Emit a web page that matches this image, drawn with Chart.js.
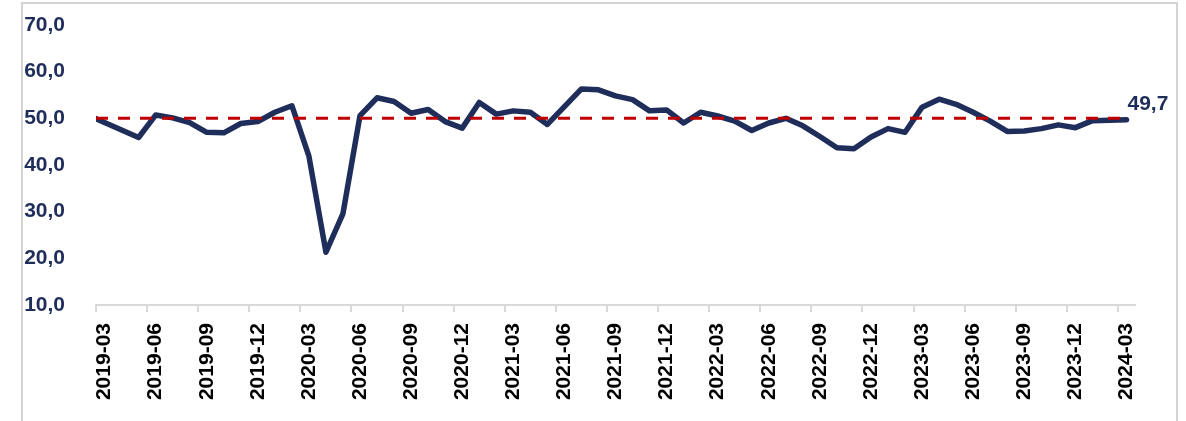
<!DOCTYPE html>
<html>
<head>
<meta charset="utf-8">
<script src="https://cdn.jsdelivr.net/npm/chart.js@4"></script>
<style>
    html, body { margin: 0; padding: 0; background: #fff; }
    #wrap { position: relative; width: 1186px; height: 421px; overflow: hidden; }
    #frame {
        position: absolute; left: 21px; top: 2px; width: 1157px; height: 500px;
        border: 2px solid #d3d3d3; box-sizing: border-box;
    }
    #chart-box { position: absolute; left: 0; top: 0; width: 1186px; height: 421px; }
</style>
</head>
<body>
<div id="wrap">
    <div id="frame"></div>
    <div id="chart-box"><canvas id="pmi-chart"></canvas></div>
</div>
<script>
// Months on the category axis (first one sits just left of the plot and is clipped)
const months = [
    '2019-02', '2019-03', '2019-04', '2019-05', '2019-06', '2019-07', '2019-08', '2019-09', '2019-10', '2019-11', '2019-12',
    '2020-01', '2020-02', '2020-03', '2020-04', '2020-05', '2020-06', '2020-07', '2020-08', '2020-09', '2020-10', '2020-11', '2020-12',
    '2021-01', '2021-02', '2021-03', '2021-04', '2021-05', '2021-06', '2021-07', '2021-08', '2021-09', '2021-10', '2021-11', '2021-12',
    '2022-01', '2022-02', '2022-03', '2022-04', '2022-05', '2022-06', '2022-07', '2022-08', '2022-09', '2022-10', '2022-11', '2022-12',
    '2023-01', '2023-02', '2023-03', '2023-04', '2023-05', '2023-06', '2023-07', '2023-08', '2023-09', '2023-10', '2023-11', '2023-12',
    '2024-01', '2024-02', '2024-03',
];

// Index values
const indexValues = [
    50.7, 49.1, 47.5, 45.9, 50.7, 50.1, 49.1, 47.0, 46.9, 48.9, 49.3,
    51.3, 52.7, 41.9, 21.3, 29.6, 50.6, 54.4, 53.6, 51.1, 51.9, 49.3, 47.9,
    53.4, 50.9, 51.6, 51.3, 48.7, 52.5, 56.3, 56.1, 54.8, 54.0, 51.6, 51.8,
    49.0, 51.3, 50.5, 49.4, 47.4, 49.0, 50.0, 48.4, 46.1, 43.7, 43.5, 46.0,
    47.8, 47.0, 52.4, 54.1, 53.0, 51.3, 49.4, 47.2, 47.3, 47.8, 48.6, 48.0,
    49.5, 49.6, 49.7,
];

const firstShownMonth = '2019-03';
const thresholdLevel = 50;
const yTicks = { min: 10, max: 70, step: 10 };

const NAVY = '#1f2d5a';
const RED = '#c00000';
const AXIS_GREY = '#d9d9d9';
const FONT = '"Liberation Sans", Arial, sans-serif';

const fmtComma = v => v.toFixed(1).replace('.', ',');

// dashed 50 line, drawn over the series
const thresholdLine = {
    id: 'thresholdLine',
    afterDatasetsDraw(chart) {
        const { ctx, chartArea, scales } = chart;
        const y = scales.y.getPixelForValue(thresholdLevel);
        const xEnd = scales.x.getPixelForValue(months.length - 1);
        ctx.save();
        ctx.strokeStyle = RED;
        ctx.lineWidth = 3;
        ctx.setLineDash([12, 10]);
        ctx.beginPath();
        ctx.moveTo(chartArea.left, y);
        ctx.lineTo(xEnd, y);
        ctx.stroke();
        ctx.restore();
    },
};

// value label at the last point
const lastValueLabel = {
    id: 'lastValueLabel',
    afterDatasetsDraw(chart) {
        const meta = chart.getDatasetMeta(0);
        const pt = meta.data[meta.data.length - 1];
        const ctx = chart.ctx;
        ctx.save();
        ctx.font = 'bold 21px ' + FONT;
        ctx.fillStyle = NAVY;
        ctx.textAlign = 'left';
        ctx.textBaseline = 'middle';
        ctx.fillText(fmtComma(indexValues[indexValues.length - 1]), pt.x + 1, pt.y - 16);
        ctx.restore();
    },
};

new Chart(document.getElementById('pmi-chart'), {
    type: 'line',
    data: {
        labels: months,
        datasets: [{
            data: indexValues,
            borderColor: NAVY,
            borderWidth: 5.5,
            borderJoinStyle: 'round',
            borderCapStyle: 'round',
            pointRadius: 0,
            tension: 0,
            fill: false,
            clip: 0,
        }],
    },
    options: {
        responsive: true,
        maintainAspectRatio: false,
        animation: false,
        layout: { padding: { top: 25, right: 51, left: 0, bottom: 0 } },
        plugins: {
            legend: { display: false },
            tooltip: { enabled: false },
        },
        scales: {
            x: {
                type: 'category',
                min: firstShownMonth,
                offset: true,
                afterFit(scale) {
                    scale.height = 116;
                    scale.paddingLeft = 0;
                    scale.paddingRight = 0;
                },
                grid: {
                    offset: true,
                    drawOnChartArea: false,
                    drawTicks: true,
                    tickLength: 7,
                    lineWidth: 2,
                    color: ctx => (ctx.index % 3 === 0 ? AXIS_GREY : 'rgba(0,0,0,0)'),
                },
                border: { display: true, color: AXIS_GREY, width: 2 },
                ticks: {
                    autoSkip: false,
                    minRotation: 90,
                    maxRotation: 90,
                    padding: 11,
                    color: '#000',
                    font: { family: FONT, size: 21, weight: 'bold' },
                    callback(val, idx) {
                        return idx % 3 === 0 ? this.getLabelForValue(val) : '';
                    },
                },
            },
            y: {
                min: yTicks.min,
                max: yTicks.max,
                afterFit(scale) {
                    scale.width = 96;
                    scale.paddingTop = 0;
                    scale.paddingBottom = 0;
                },
                grid: { display: false },
                border: { display: false },
                ticks: {
                    stepSize: yTicks.step,
                    padding: 23,
                    color: NAVY,
                    font: { family: FONT, size: 21, weight: 'bold' },
                    callback: v => fmtComma(v),
                },
            },
        },
    },
    plugins: [thresholdLine, lastValueLabel],
});
</script>
</body>
</html>
